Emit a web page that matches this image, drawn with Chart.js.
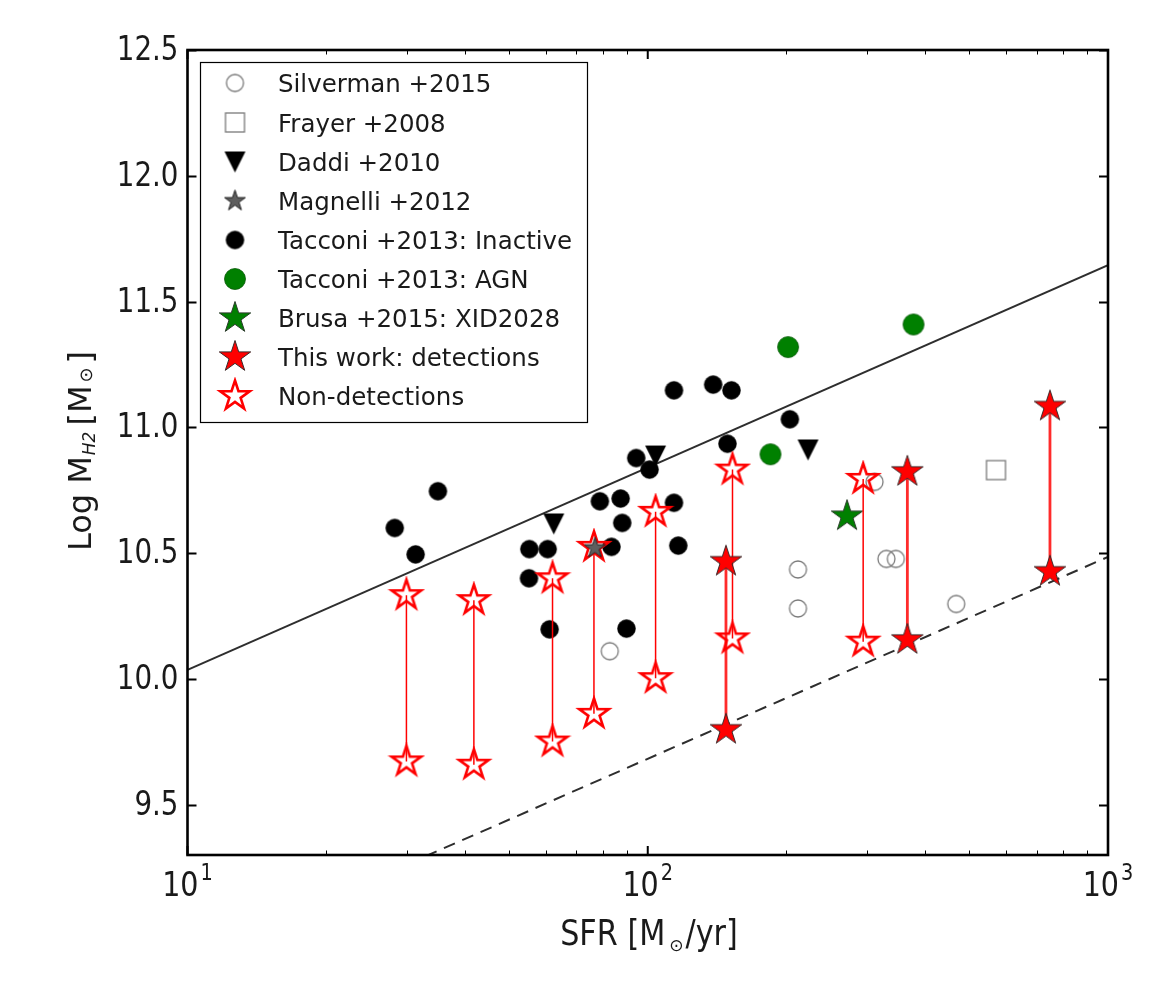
<!DOCTYPE html>
<html><head><meta charset="utf-8">
<script src="https://cdn.jsdelivr.net/npm/chart.js@4.4.1/dist/chart.umd.min.js"></script>
<style>html,body{margin:0;padding:0;background:#fff;}canvas{display:block;}</style>
</head><body>
<canvas id="c" width="1155" height="982"></canvas>
<script>
// ---------------- data ----------------
const silvermanSFR  = [82.7, 212, 212, 311, 330, 346, 468];
const silvermanLogM = [10.11, 10.435, 10.28, 10.783, 10.477, 10.477, 10.298];
const frayerSFR  = [571];
const frayerLogM = [10.83];
const daddiSFR  = [62.5, 104, 223];
const daddiLogM = [10.616, 10.886, 10.91];
const magnelliSFR  = [76.8];
const magnelliLogM = [10.52];
const tacconiSFR  = [28.2, 31.3, 35.0, 55.3, 60.6, 55.2, 61.2, 78.7, 87.3, 88.0, 83.4, 89.9, 94.4, 100.9, 114, 138.7, 152, 114, 116.5, 149, 203.6];
const tacconiLogM = [10.60, 10.495, 10.746, 10.516, 10.516, 10.40, 10.197, 10.706, 10.717, 10.62, 10.525, 10.20, 10.878, 10.832, 11.147, 11.17, 11.147, 10.70, 10.53, 10.935, 11.032];
const agnSFR  = [184.8, 201.8, 378];
const agnLogM = [10.893, 11.319, 11.409];
const brusaSFR  = [271];
const brusaLogM = [10.647];
const detSFR   = [147.9, 366.5, 748];
const detUpper = [10.466, 10.823, 11.083];
const detLower = [9.798, 10.155, 10.426];
const nondetSFR   = [29.9, 41.9, 62.1, 76.4, 104, 152.8, 293.8];
const nondetUpper = [10.333, 10.313, 10.40, 10.525, 10.664, 10.832, 10.795];
const nondetLower = [9.672, 9.659, 9.751, 9.861, 10.003, 10.161, 10.148];
const relationSFR   = [10, 1000];
const relationUpper = [10.036, 11.645];
const relationLower = [8.88, 10.485];

const yTicks = [9.5, 10.0, 10.5, 11.0, 11.5, 12.0, 12.5];
const yTickLabels = ['9.5', '10.0', '10.5', '11.0', '11.5', '12.0', '12.5'];
const xMajorTicks = [10, 100, 1000];
const xTickExp = ['1', '2', '3'];
const xMinorTicks = [20, 30, 40, 50, 60, 70, 80, 90, 200, 300, 400, 500, 600, 700, 800, 900];

const legendLabels = ['Silverman +2015', 'Frayer +2008', 'Daddi +2010', 'Magnelli +2012',
  'Tacconi +2013: Inactive', 'Tacconi +2013: AGN', 'Brusa +2015: XID2028',
  'This work: detections', 'Non-detections'];

// ---------------- marker images ----------------
function mk(size, draw) {
  const c = document.createElement('canvas');
  c.width = size; c.height = size;
  const g = c.getContext('2d');
  draw(g, size / 2);
  return c;
}
function starPath(g, c, R) {
  g.beginPath();
  for (let i = 0; i < 10; i++) {
    const r = i % 2 === 0 ? R : R * 0.381966;
    const a = -Math.PI / 2 + i * Math.PI / 5;
    const x = c + r * Math.cos(a), y = c + r * Math.sin(a);
    if (i === 0) g.moveTo(x, y); else g.lineTo(x, y);
  }
  g.closePath();
}
function star(R, fill, stroke, lw) {
  return mk(Math.ceil(2 * R + lw + 4), (g, c) => {
    starPath(g, c, R);
    g.lineJoin = 'miter';
    if (fill) { g.fillStyle = fill; g.fill(); }
    g.lineWidth = lw; g.strokeStyle = stroke; g.stroke();
  });
}
function circle(r, fill, stroke, lw) {
  return mk(Math.ceil(2 * r + lw + 4), (g, c) => {
    g.beginPath(); g.arc(c, c, r, 0, Math.PI * 2);
    if (fill) { g.fillStyle = fill; g.fill(); }
    g.lineWidth = lw; g.strokeStyle = stroke; g.stroke();
  });
}
function square(h, stroke, lw) {
  return mk(Math.ceil(2 * h + lw + 4), (g, c) => {
    g.lineWidth = lw; g.strokeStyle = stroke;
    g.strokeRect(c - h, c - h, 2 * h, 2 * h);
  });
}
function triDown(h, fill) {
  return mk(Math.ceil(2 * h + 4), (g, c) => {
    g.beginPath(); g.moveTo(c - h, c - h); g.lineTo(c + h, c - h); g.lineTo(c, c + h); g.closePath();
    g.fillStyle = fill; g.fill();
  });
}
const M = {
  silverman: circle(8.5, null, '#7a7a7a', 1.3),
  frayer: square(9.5, '#7a7a7a', 1.3),
  daddi: triDown(10.5, '#000'),
  magnelli: star(11, '#5e5e5e', '#222', 1),
  tacconi: circle(9, '#000', '#000', 0.5),
  agn: circle(10.5, '#008000', '#0a5a0a', 0.8),
  brusa: star(16.5, '#008000', '#2a3a2a', 1),
  det: star(16.5, '#ff0000', '#3a2a2a', 1),
  nondet: star(15.5, null, '#ff0000', 2.6)
};

const pts = (xs, ys) => xs.map((x, i) => ({ x: x, y: ys[i] }));
function markerSet(label, xs, ys, img, order) {
  return { label, data: pts(xs, ys), pointStyle: img, pointRadius: 6, order, showLine: false, clip: false };
}

const datasets = [];
datasets.push(markerSet('magnelli', magnelliSFR, magnelliLogM, M.magnelli, 0));
datasets.push(markerSet('det', detSFR, detUpper, M.det, 1));
datasets.push(markerSet('det2', detSFR, detLower, M.det, 1));
datasets.push(markerSet('nondet', nondetSFR, nondetUpper, M.nondet, 2));
datasets.push(markerSet('nondet2', nondetSFR, nondetLower, M.nondet, 2));
detSFR.forEach((x, i) => datasets.push({ label: 'detline' + i, data: [{ x, y: detUpper[i] }, { x, y: detLower[i] }],
  showLine: true, pointRadius: 0, borderColor: 'rgba(255,20,20,0.9)', borderWidth: 2.8, order: 3 }));
nondetSFR.forEach((x, i) => datasets.push({ label: 'ndline' + i, data: [{ x, y: nondetUpper[i] }, { x, y: nondetLower[i] }],
  showLine: true, pointRadius: 0, borderColor: '#ff0000', borderWidth: 1.5, order: 4 }));
datasets.push(markerSet('brusa', brusaSFR, brusaLogM, M.brusa, 5));
datasets.push(markerSet('agn', agnSFR, agnLogM, M.agn, 6));
datasets.push(markerSet('tacconi', tacconiSFR, tacconiLogM, M.tacconi, 7));
datasets.push(markerSet('daddi', daddiSFR, daddiLogM, M.daddi, 8));
datasets.push(markerSet('frayer', frayerSFR, frayerLogM, M.frayer, 9));
datasets.push(markerSet('silverman', silvermanSFR, silvermanLogM, M.silverman, 10));
datasets.push({ label: 'relUpper', data: pts(relationSFR, relationUpper), showLine: true, pointRadius: 0,
  borderColor: '#2e2e2e', borderWidth: 2, order: 11, clip: 0 });
datasets.push({ label: 'relLower', data: pts(relationSFR, relationLower), showLine: true, pointRadius: 0,
  borderColor: '#2e2e2e', borderWidth: 2, borderDash: [12, 8], order: 11, clip: 0 });

// ---------------- text helpers ----------------
const FAM = '"DejaVu Sans", "Noto Sans", sans-serif';
function sText(ctx, txt, x, y, size, sx, align, style) {
  ctx.save();
  ctx.font = (style || '') + ' ' + size + 'px ' + FAM;
  ctx.translate(x, y); ctx.scale(sx, 1);
  ctx.textAlign = align || 'left'; ctx.textBaseline = 'alphabetic';
  ctx.fillText(txt, 0, 0);
  const w = ctx.measureText(txt).width * sx;
  ctx.restore();
  return w;
}
function width(ctx, txt, size, sx, style) {
  ctx.save(); ctx.font = (style || '') + ' ' + size + 'px ' + FAM;
  const w = ctx.measureText(txt).width * sx; ctx.restore(); return w;
}

const SX = 0.84;
const decor = {
  id: 'decor',
  afterDraw(chart) {
    const ctx = chart.ctx, a = chart.chartArea, xs = chart.scales.x, ys = chart.scales.y;
    ctx.save();
    ctx.fillStyle = '#1a1a1a';
    ctx.strokeStyle = '#000';
    // ticks
    ctx.lineWidth = 2;
    yTicks.forEach(v => {
      const y = Math.round(ys.getPixelForValue(v)) + 0.5;
      ctx.beginPath();
      ctx.moveTo(a.left, y); ctx.lineTo(a.left + 9, y);
      ctx.moveTo(a.right, y); ctx.lineTo(a.right - 9, y);
      ctx.stroke();
    });
    xMajorTicks.forEach(v => {
      const x = xs.getPixelForValue(v);
      ctx.beginPath();
      ctx.moveTo(x, a.bottom); ctx.lineTo(x, a.bottom - 9);
      ctx.moveTo(x, a.top); ctx.lineTo(x, a.top + 9);
      ctx.stroke();
    });
    ctx.lineWidth = 1;
    xMinorTicks.forEach(v => {
      const x = Math.round(xs.getPixelForValue(v)) + 0.5;
      ctx.beginPath();
      ctx.moveTo(x, a.bottom); ctx.lineTo(x, a.bottom - 4.5);
      ctx.moveTo(x, a.top); ctx.lineTo(x, a.top + 4.5);
      ctx.stroke();
    });
    // frame
    ctx.lineWidth = 2.6;
    ctx.strokeRect(a.left, a.top, a.right - a.left, a.bottom - a.top);

    // y tick labels
    yTicks.forEach((v, i) => {
      const y = ys.getPixelForValue(v);
      sText(ctx, yTickLabels[i], a.left - 9, y + 10, 33, SX, 'right');
    });
    // x tick labels 10^n
    xMajorTicks.forEach((v, i) => {
      const x = xs.getPixelForValue(v);
      const w1 = width(ctx, '10', 34, SX), w2 = width(ctx, xTickExp[i], 23, SX);
      const x0 = x - (w1 + w2 + 2) / 2;
      sText(ctx, '10', x0, 896, 34, SX);
      sText(ctx, xTickExp[i], x0 + w1 + 2, 880, 23, SX);
    });
    // x axis title: SFR [M_sun/yr]
    {
      const p1 = 'SFR [M', p2 = '\u2299', p3 = '/yr]';
      const w1 = width(ctx, p1, 36, SX), w2 = width(ctx, p2, 17, 1), w3 = width(ctx, p3, 36, SX);
      const tot = w1 + 4 + w2 + 2 + w3;
      let x = 649 - tot / 2;
      sText(ctx, p1, x, 945, 36, SX); x += w1 + 4;
      sText(ctx, p2, x, 951, 17, 1); x += w2 + 2;
      sText(ctx, p3, x, 945, 36, SX);
    }
    // y axis title: Log M_H2 [M_sun]
    {
      ctx.save();
      ctx.translate(91, 451);
      ctx.rotate(-Math.PI / 2);
      const parts = [
        { t: 'Log M', s: 32, dy: 0, st: '' , gap: 1},
        { t: 'H2', s: 17, dy: 4, st: 'italic', gap: 6 },
        { t: '[M', s: 32, dy: 0, st: '', gap: 3 },
        { t: '\u2299', s: 18, dy: 1, st: '', gap: 4 },
        { t: ']', s: 32, dy: 0, st: '', gap: 0 }
      ];
      let tot = 0;
      parts.forEach(p => { p.w = width(ctx, p.t, p.s, 1, p.st); tot += p.w + p.gap; });
      let x = -tot / 2;
      parts.forEach(p => { sText(ctx, p.t, x, p.dy, p.s, 1, 'left', p.st); x += p.w + p.gap; });
      ctx.restore();
    }
    // legend
    const L = { x: 200.5, y: 62.5, w: 387, h: 360 };
    ctx.fillStyle = '#fff';
    ctx.fillRect(L.x, L.y, L.w, L.h);
    ctx.lineWidth = 1.2; ctx.strokeStyle = '#000';
    ctx.strokeRect(L.x, L.y, L.w, L.h);
    const imgs = [M.silverman, M.frayer, M.daddi, M.magnelli, M.tacconi, M.agn, M.brusa, M.det, M.nondet];
    const rowY = [83, 122.5, 162, 201, 240, 279, 318, 357, 396];
    ctx.fillStyle = '#1a1a1a';
    legendLabels.forEach((lab, i) => {
      const img = imgs[i];
      ctx.drawImage(img, 235 - img.width / 2, rowY[i] - img.height / 2);
      sText(ctx, lab, 278, rowY[i] + 9, 24.5, 1);
    });
    ctx.restore();
  }
};

new Chart(document.getElementById('c'), {
  type: 'scatter',
  data: { datasets },
  options: {
    responsive: false,
    animation: false,
    events: [],
    layout: { padding: { left: 187.5, top: 50, right: 47, bottom: 127 } },
    plugins: { legend: { display: false }, tooltip: { enabled: false } },
    scales: {
      x: { type: 'logarithmic', min: 10, max: 1000,
           ticks: { display: false }, grid: { display: false }, border: { display: false },
           afterFit(s) { s.height = 0; } },
      y: { type: 'linear', min: 9.3, max: 12.5,
           ticks: { display: false }, grid: { display: false }, border: { display: false },
           afterFit(s) { s.width = 0; } }
    }
  },
  plugins: [decor]
});
</script>
</body></html>
